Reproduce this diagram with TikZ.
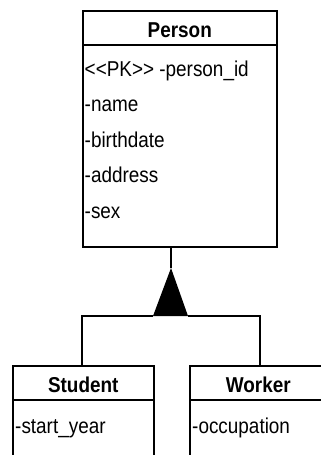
\documentclass[tikz,border=0pt]{standalone}
\usepackage{fontspec}
\setmainfont{Liberation Sans}[FakeStretch=0.88]
\usetikzlibrary{calc,positioning}
\tikzset{
  classbox/.style={draw, line width=1.5pt, anchor=north west, inner sep=0pt},
  classname/.style={font=\fontsize{21.5}{23}\selectfont\bfseries, anchor=base, inner sep=0pt},
  attr/.style={font=\fontsize{21.5}{23}\selectfont, anchor=base west, inner sep=0pt},
  link/.style={line width=1.5pt},
}

\begin{document}
\begin{tikzpicture}[x=1pt,y=-1pt]
\useasboundingbox (0,0) rectangle (321,455);
\clip (0,0) rectangle (321,455);

% Person
\node[classbox, minimum width=194pt, minimum height=236pt] (person) at (82,10) {};
\node[classname] (ptitle) at ($(person.north)+(0,27)$) {Person};
\draw[link] ($(person.north west)+(0,35)$) -- ($(person.north east)+(0,35)$);
\foreach \t [count=\i] in {<{}<PK>{}> -person\_id, -name, -birthdate, -address, -sex}
  \node[attr] (p\i) at ($(person.north west)+(2.5,{30.5+35.5*\i})$) {\t};

% Student
\node[classbox, minimum width=141pt, minimum height=120pt] (student) at (12,365) {};
\node[classname] (stitle) at ($(student.north)+(0,27)$) {Student};
\draw[link] ($(student.north west)+(0,35)$) -- ($(student.north east)+(0,35)$);
\node[attr] (s1) at ($(student.north west)+(3,68)$) {-start\_year};

% Worker
\node[classbox, minimum width=141pt, minimum height=120pt] (worker) at (189,365) {};
\node[classname] (wtitle) at ($(worker.north)+(-2,27)$) {Worker};
\draw[link] ($(worker.north west)+(0,35)$) -- ($(worker.north east)+(0,35)$);
\node[attr] (w1) at ($(worker.north west)+(3,68)$) {-occupation};

% generalisation
\coordinate (apex) at (171,268);
\coordinate (bl) at (153,316);
\coordinate (br) at (188,316);
\coordinate (sj) at (82,316);
\coordinate (wj) at (260,316);
\draw[link] (person.south -| apex) -- (apex);
\fill (apex) -- (bl) -- (br) -- cycle;
\draw[link] (bl) -- (sj) -- (sj |- student.north);
\draw[link] (br) -- (wj) -- (wj |- worker.north);
\end{tikzpicture}
\end{document}
